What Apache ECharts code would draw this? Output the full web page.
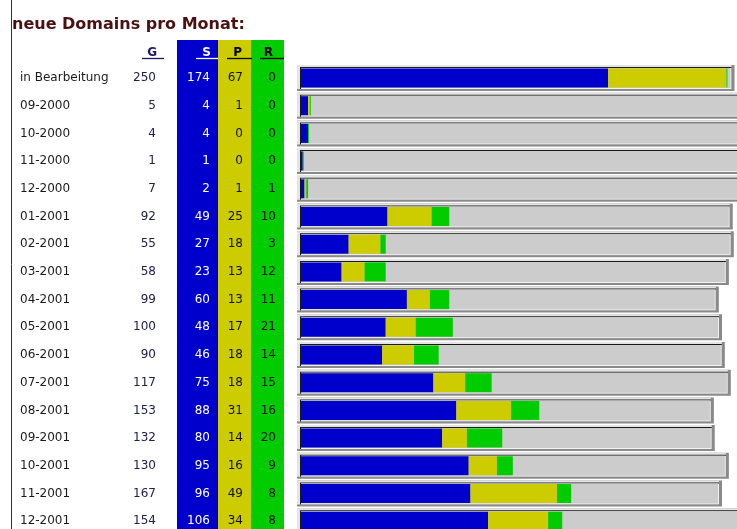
<!DOCTYPE html>
<html>
<head>
<meta charset="utf-8">
<title>neue Domains pro Monat</title>
<script src="https://cdn.jsdelivr.net/npm/echarts@6/dist/echarts.min.js"></script>
<style>
  html, body { margin: 0; padding: 0; background: #fff; }
  #chart { width: 737px; height: 529px; }
</style>
</head>
<body>
<div id="chart"></div>
<script>
// Zeilen (Monate)
var monate = ['in Bearbeitung', '09-2000', '10-2000', '11-2000', '12-2000',
  '01-2001', '02-2001', '03-2001', '04-2001', '05-2001', '06-2001',
  '07-2001', '08-2001', '09-2001', '10-2001', '11-2001', '12-2001'];
// Spalten G, S, P, R
var gesamt = [250, 5, 4, 1, 7, 92, 55, 58, 99, 100, 90, 117, 153, 132, 130, 167, 154];
var werteS = [174, 4, 4, 1, 2, 49, 27, 23, 60, 48, 46, 75, 88, 80, 95, 96, 106];
var werteP = [67, 1, 0, 0, 1, 25, 18, 13, 13, 17, 18, 18, 31, 14, 16, 49, 34];
var werteR = [0, 0, 0, 0, 1, 10, 3, 12, 11, 21, 14, 15, 16, 20, 9, 8, 8];
// Länge der grauen Rahmen (gleiche Einheit wie die Balken)
var rahmen = [245.6, 251, 251, 251, 251, 244.6, 245.2, 242.4, 236.7, 238.5,
  240.1, 243.5, 233.9, 234.4, 242.4, 238.5, 251];

var schrift = 'Verdana, "DejaVu Sans", sans-serif';
var blau = '#0000cc', gelb = '#cccc00', gruen = '#00cc00';

function zelle(breite, align, farbe) {
  return { width: breite, align: align, color: farbe, fontSize: 12, fontFamily: schrift };
}

// 3D-Rahmen hinter jedem Balken
function renderRahmen(params, api) {
  var i = api.value(0);
  var start = api.coord([0, i]);
  var ende = api.coord([api.value(1), i]);
  var x0 = start[0] - 4, c = start[1];
  var w = ende[0] - x0;
  return {
    type: 'group',
    children: [
      { type: 'rect', shape: { x: x0, y: c - 13, width: w, height: 26 }, style: { fill: '#8a8a8a' } },
      { type: 'rect', shape: { x: x0, y: c - 13, width: w - 3, height: 24 }, style: { fill: '#e4e4e4' } },
      { type: 'rect', shape: { x: x0 + 3, y: c - 11, width: w - 6, height: 22 }, style: { fill: '#1a1a1a' } },
      { type: 'rect', shape: { x: x0 + 4, y: c - 10, width: w - 7, height: 21 }, style: { fill: '#f2f2f2' } },
      { type: 'rect', shape: { x: x0 + 4, y: c - 10, width: w - 8, height: 20 }, style: { fill: '#cccccc' } }
    ]
  };
}

function kopf(text, x, farbe, x1, x2) {
  return [
    { type: 'text', z: 3, style: { text: text, x: x, y: 53, align: 'right', verticalAlign: 'middle',
      fill: farbe, font: 'bold 12px ' + schrift } },
    { type: 'line', z: 3, shape: { x1: x1, y1: 58.5, x2: x2, y2: 58.5 }, style: { stroke: farbe, lineWidth: 1.3 } }
  ];
}

var option = {
  animation: false,
  title: {
    text: 'neue Domains pro Monat:',
    left: 12,
    top: 17,
    padding: 0,
    textStyle: { fontSize: 16, fontWeight: 'bold', color: '#4b1010', fontFamily: schrift }
  },
  grid: { left: 301, right: 0, top: 64.15, height: 470.9, outerBoundsMode: 'none' },
  xAxis: { type: 'value', min: 0, max: 247, show: false },
  yAxis: {
    type: 'category',
    inverse: true,
    data: monate,
    z: 5,
    axisLine: { show: false },
    axisTick: { show: false },
    splitLine: { show: false },
    axisLabel: {
      interval: 0,
      margin: 25,
      formatter: function (wert, i) {
        return '{m|' + wert + '}{g|' + gesamt[i] + '}{s|' + werteS[i] + '}{p|' + werteP[i] + '}{r|' + werteR[i] + '}';
      },
      rich: {
        m: zelle(100, 'left', '#1a1a1a'),
        g: zelle(36, 'right', '#202050'),
        s: zelle(54, 'right', '#ffffff'),
        p: zelle(33, 'right', '#111111'),
        r: zelle(33, 'right', '#111111')
      }
    }
  },
  graphic: {
    elements: [
      { type: 'line', z: -1, shape: { x1: 11.5, y1: 0, x2: 11.5, y2: 529 }, style: { stroke: '#333', lineWidth: 1 } },
      { type: 'rect', z: -1, shape: { x: 177, y: 40, width: 41, height: 489 }, style: { fill: blau } },
      { type: 'rect', z: -1, shape: { x: 218, y: 40, width: 33, height: 489 }, style: { fill: gelb } },
      { type: 'rect', z: -1, shape: { x: 251, y: 40, width: 33, height: 489 }, style: { fill: gruen } }
    ].concat(
      kopf('G', 157, '#1a1a66', 142, 164),
      kopf('S', 211, '#ffffff', 196, 218),
      kopf('P', 242, '#000000', 227, 252),
      kopf('R', 273, '#000000', 260, 284)
    )
  },
  series: [
    {
      type: 'custom',
      name: 'Rahmen',
      z: 1,
      clip: false,
      renderItem: renderRahmen,
      encode: { x: 1, y: 0 },
      data: rahmen.map(function (v, i) { return [i, v]; })
    },
    { type: 'bar', name: 'S', stack: 'a', z: 2, barWidth: 19, data: werteS, itemStyle: { color: blau } },
    { type: 'bar', name: 'P', stack: 'a', z: 2, barWidth: 19, data: werteP, itemStyle: { color: gelb } },
    { type: 'bar', name: 'R', stack: 'a', z: 2, barWidth: 19, barMinHeight: 1, data: werteR, itemStyle: { color: gruen } }
  ]
};

var myChart = echarts.init(document.getElementById('chart'));
myChart.setOption(option);
</script>
</body>
</html>
